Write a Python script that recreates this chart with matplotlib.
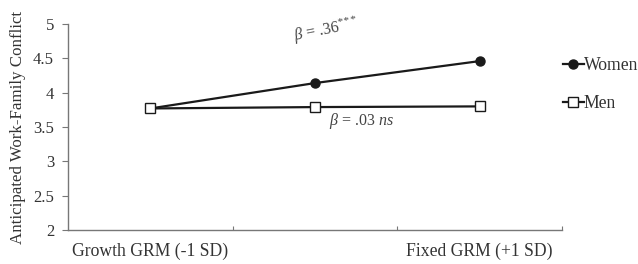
import matplotlib
matplotlib.use("Agg")
import matplotlib.pyplot as plt
from matplotlib.lines import Line2D

plt.rcParams['font.family'] = ['Liberation Serif', 'DejaVu Serif']
plt.rcParams['mathtext.fontset'] = 'custom'
plt.rcParams['mathtext.rm'] = 'Liberation Serif'
plt.rcParams['mathtext.it'] = 'Liberation Serif:italic'

categories = ['Growth GRM (-1 SD)', '', 'Fixed GRM (+1 SD)']
women = [3.77, 4.14, 4.46]
men = [3.77, 3.79, 3.80]
yticks = [2, 2.5, 3, 3.5, 4, 4.5, 5]
ytick_labels = ['2', '2.5', '3', '3.5', '4', '4.5', '5']

fig = plt.figure(figsize=(6.38, 2.64), dpi=100)
ax = fig.add_axes([0.1066, 0.129, 0.7744, 0.78])

x = list(range(len(categories)))
ax.plot(x, women, color='#1a1a1a', lw=1.6, marker='o', ms=6.5,
        mfc='#1a1a1a', mec='#1a1a1a', zorder=3)
ax.plot(x, men, color='#1a1a1a', lw=1.6, marker='s', ms=7,
        mfc='white', mec='#1a1a1a', mew=1.0, zorder=4)

ax.set_xlim(-0.5, len(categories) - 0.5)
ax.set_ylim(2, 5)
ax.set_yticks(yticks)
ax.set_yticklabels(ytick_labels, fontsize=12, color='#333333')
ax.set_xticks([i + 0.5 for i in x])
ax.set_xticklabels([])
ax.tick_params(axis='x', direction='in', length=3, color='#777777')
ax.tick_params(axis='y', direction='out', length=4, color='#777777', pad=6)
for i, lab in enumerate(categories):
    ax.text(i, -0.06, lab, transform=ax.get_xaxis_transform(),
            ha='center', va='top', fontsize=12.7, color='#333333')

for s in ['top', 'right']:
    ax.spines[s].set_visible(False)
for s in ['left', 'bottom']:
    ax.spines[s].set_color('#777777')
    ax.spines[s].set_linewidth(1.0)

ax.set_ylabel('Anticipated Work-Family Conflict', fontsize=12.2, color='#333333', labelpad=5)

ax.text(1.07, 4.91, r'$\beta$ = .36$^{*\!*\!*}$', rotation=11, ha='center', va='center',
        fontsize=11.5, color='#444444')
ax.text(1.285, 3.58, r'$\beta$ = .03 $\it{ns}$', ha='center', va='center',
        fontsize=11.5, color='#444444')

handles = [Line2D([], [], color='#1a1a1a', lw=1.6, marker='o', ms=6.5, mfc='#1a1a1a'),
           Line2D([], [], color='#1a1a1a', lw=1.6, marker='s', ms=7, mfc='white', mew=1.0)]
fig.legend(handles, ['Women', 'Men'], loc='upper left', bbox_to_anchor=(0.857, 0.845),
           frameon=False, fontsize=12.7, handlelength=1.2, handletextpad=0.0,
           labelspacing=1.2, labelcolor='#333333')

fig.savefig('out.png', dpi=100)
